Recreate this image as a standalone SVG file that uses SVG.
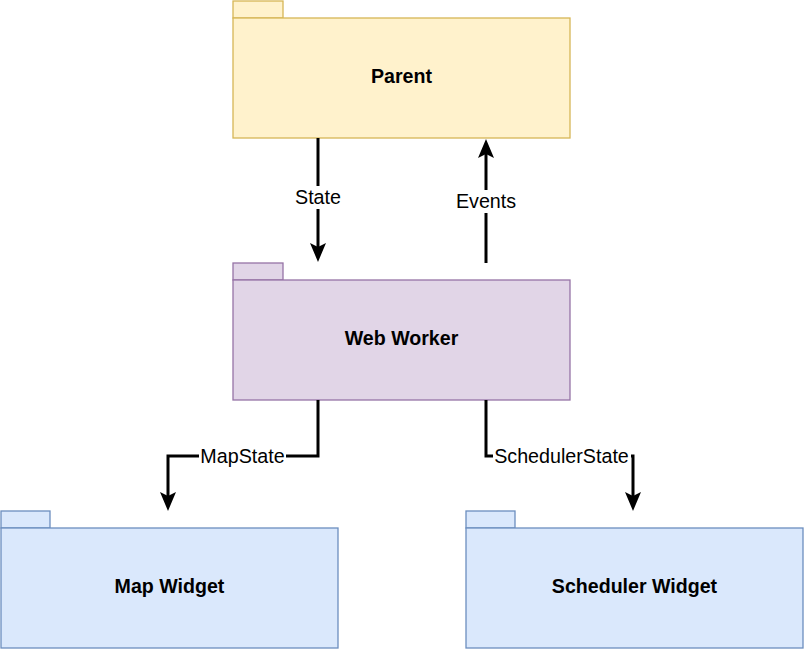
<svg xmlns="http://www.w3.org/2000/svg" width="804" height="650" viewBox="0 0 804 650">
<style>
.pk{stroke-width:1.3}
.parent{fill:#fff2cc;stroke:#d6b656}
.worker{fill:#e1d5e7;stroke:#9673a6}
.widget{fill:#dae8fc;stroke:#6c8ebf}
.title{font-family:"Liberation Sans",Arial,sans-serif;font-weight:bold;font-size:19.6px;fill:#000;text-anchor:middle}
.lbl{font-family:"Liberation Sans",Arial,sans-serif;font-size:19.7px;fill:#000;text-anchor:middle}
.edge{fill:none;stroke:#000;stroke-width:3;marker-end:url(#arr)}
.bg{fill:#fff}
</style>
<defs>
<marker id="arr" markerUnits="userSpaceOnUse" viewBox="0 0 19 16" refX="4" refY="8" markerWidth="19" markerHeight="16" orient="auto">
<path d="M0,0 L19,8 L0,16 L4,8 Z" fill="#000"/>
</marker>
</defs>
<rect width="804" height="650" fill="#fff"/>
<g id="parent">
<rect class="pk parent" x="233" y="1" width="50" height="17"/>
<rect class="pk parent" x="233" y="18" width="337" height="120"/>
<text class="title" x="401.5" y="83">Parent</text>
</g>
<g id="webworker">
<rect class="pk worker" x="233" y="263" width="50" height="17"/>
<rect class="pk worker" x="233" y="280" width="337" height="120"/>
<text class="title" x="401.5" y="345">Web Worker</text>
</g>
<g id="mapwidget">
<rect class="pk widget" x="1" y="511" width="49" height="17"/>
<rect class="pk widget" x="1" y="528" width="337" height="120"/>
<text class="title" x="169.5" y="593">Map Widget</text>
</g>
<g id="schedulerwidget">
<rect class="pk widget" x="466" y="511" width="49" height="17"/>
<rect class="pk widget" x="466" y="528" width="337" height="120"/>
<text class="title" x="634.5" y="593">Scheduler Widget</text>
</g>
<g id="connectors">
<path class="edge" d="M318,138 L318,247"/>
<rect class="bg" x="292" y="186" width="52" height="23"/>
<text class="lbl" x="318" y="204">State</text>
<path class="edge" d="M486,263 L486,154"/>
<rect class="bg" x="455" y="190" width="62" height="23"/>
<text class="lbl" x="486" y="208">Events</text>
<path class="edge" d="M318,400 L318,456 L168,456 L168,496"/>
<rect class="bg" x="199" y="445" width="87" height="23"/>
<text class="lbl" x="242.5" y="463">MapState</text>
<path class="edge" d="M486,400 L486,456 L633,456 L633,496"/>
<rect class="bg" x="493" y="445" width="138" height="23"/>
<text class="lbl" x="561.5" y="463">SchedulerState</text>
</g>
</svg>
